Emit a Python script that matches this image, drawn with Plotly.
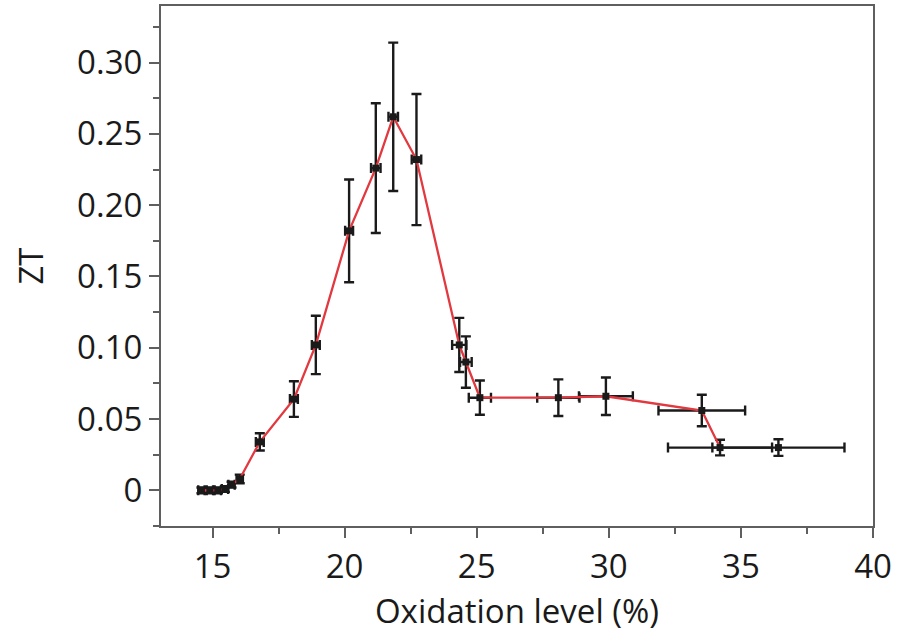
import plotly.graph_objects as go

# ZT versus oxidation level, connected series
ox_level = [14.58, 14.90, 15.20, 15.47, 15.72, 16.03, 16.79, 18.08, 18.91,
            20.17, 21.18, 21.84, 22.72, 24.34, 24.59, 25.12, 28.09, 29.89,
            33.52, 34.21]
ox_err = [0.12, 0.12, 0.12, 0.12, 0.12, 0.12, 0.15, 0.15, 0.15,
          0.15, 0.18, 0.18, 0.18, 0.27, 0.22, 0.42, 0.80, 1.02,
          1.64, 1.97]
zt = [0.000, 0.000, 0.000, 0.001, 0.004, 0.008, 0.034, 0.064, 0.102,
      0.182, 0.226, 0.262, 0.232, 0.102, 0.090, 0.065, 0.065, 0.066,
      0.056, 0.030]
zt_err = [0.002, 0.002, 0.002, 0.002, 0.002, 0.003, 0.006, 0.0125, 0.0205,
          0.036, 0.0455, 0.052, 0.046, 0.019, 0.018, 0.012, 0.0128, 0.0131,
          0.011, 0.0055]

# isolated sample, not joined to the curve
ox_extra = [36.42]
ox_extra_err = [2.50]
zt_extra = [0.030]
zt_extra_err = [0.0058]

x_ticks = [15, 20, 25, 30, 35, 40]
y_ticks = [0, 0.05, 0.10, 0.15, 0.20, 0.25, 0.30]
y_tick_text = ["0", "0.05", "0.10", "0.15", "0.20", "0.25", "0.30"]

RED = "#e2383f"
INK = "#1a1a1a"
AXIS = "#5f5f5f"

err_style = dict(type="data", visible=True, color=INK, thickness=2.4, width=5)

fig = go.Figure()
fig.add_trace(go.Scatter(
    x=ox_level, y=zt, mode="lines+markers",
    line=dict(color=RED, width=2.3),
    marker=dict(symbol="square", size=7, color=INK),
    error_x=dict(array=ox_err, **err_style),
    error_y=dict(array=zt_err, **err_style),
    showlegend=False,
))
fig.add_trace(go.Scatter(
    x=ox_extra, y=zt_extra, mode="markers",
    marker=dict(symbol="square", size=7, color=INK),
    error_x=dict(array=ox_extra_err, **err_style),
    error_y=dict(array=zt_extra_err, **err_style),
    showlegend=False,
))

font_main = dict(family="Open Sans", size=33, color=INK)

fig.update_layout(
    width=898, height=634,
    margin=dict(l=161, r=25, t=4, b=108),
    paper_bgcolor="white", plot_bgcolor="white",
    font=font_main,
    xaxis=dict(
        range=[13.05, 40], tickvals=x_ticks, ticks="outside", ticklen=10,
        tickwidth=2, tickcolor=AXIS, showline=True, linecolor=AXIS,
        linewidth=2, mirror=True, showgrid=False, zeroline=False,
        tickfont=font_main,
        minor=dict(ticks="outside", ticklen=6, tickwidth=2, tickcolor=AXIS,
                   tick0=17.5, dtick=5, showgrid=False),
        title=dict(text="Oxidation level (%)", font=font_main, standoff=8),
    ),
    yaxis=dict(
        range=[-0.025, 0.3397], tickvals=y_ticks, ticktext=y_tick_text,
        ticks="outside", ticklen=10, tickwidth=2, tickcolor=AXIS,
        showline=True, linecolor=AXIS, linewidth=2, mirror=True,
        showgrid=False, zeroline=False, tickfont=font_main,
        minor=dict(ticks="outside", ticklen=6, tickwidth=2, tickcolor=AXIS,
                   tick0=0.025, dtick=0.05, showgrid=False),
        title=dict(text="ZT", font=font_main, standoff=24),
    ),
)

fig.write_html("out.html")
